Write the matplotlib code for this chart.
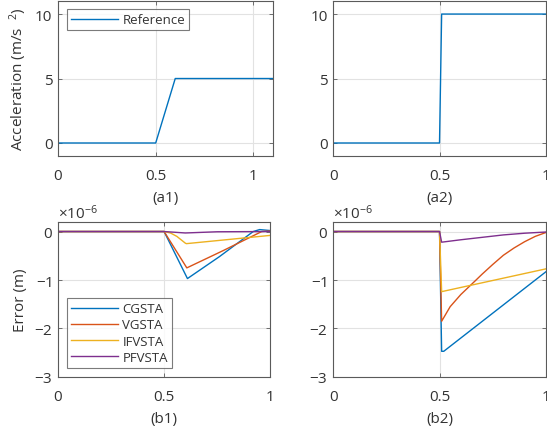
import matplotlib
matplotlib.use("Agg")
import matplotlib.pyplot as plt
import numpy as np
from matplotlib.ticker import ScalarFormatter

plt.rcParams['font.family'] = ['Open Sans', 'DejaVu Sans']
plt.rcParams['mathtext.fontset'] = 'custom'
plt.rcParams['mathtext.rm'] = 'Open Sans'
plt.rcParams['mathtext.it'] = 'Open Sans'
plt.rcParams['axes.unicode_minus'] = False
plt.rcParams['font.size'] = 10

# reference accelerations (m/s^2)
t_a1 = [0, 0.5, 0.6, 1.1]
acc_a1 = [0, 0, 5, 5]
t_a2 = [0, 0.5, 0.51, 1.0]
acc_a2 = [0, 0, 10, 10]

# tracking errors, in units of 1e-6 m
# (b1)
cg_t1 = [0, 0.5, 0.61, 0.76, 0.92, 0.95, 1.0]
cg_e1 = [0, 0, -0.97, -0.52, 0.0, 0.04, 0.02]
vg_t1 = [0, 0.5, 0.607, 0.78, 0.96, 1.0]
vg_e1 = [0, 0, -0.75, -0.39, 0.0, 0.01]
if_t1 = [0, 0.5, 0.53, 0.56, 0.58, 0.6, 0.605, 1.0]
if_e1 = [0, 0, -0.03, -0.10, -0.17, -0.24, -0.25, -0.08]
pf_t1 = [0, 0.5, 0.6, 0.75, 1.0]
pf_e1 = [0, 0, -0.03, -0.005, 0.0]
# (b2)
cg_t2 = [0, 0.5, 0.51, 0.52, 1.0]
cg_e2 = [0, 0, -2.47, -2.47, -0.83]
vg_t2 = [0, 0.5, 0.51, 0.55, 0.6, 0.667, 0.7, 0.75, 0.8, 0.85, 0.9, 0.95, 1.0]
vg_e2 = [0, 0, -1.85, -1.55, -1.3, -1.02, -0.88, -0.68, -0.49, -0.34, -0.21, -0.10, -0.02]
if_t2 = [0, 0.5, 0.51, 1.0]
if_e2 = [0, 0, -1.24, -0.77]
pf_t2 = [0, 0.5, 0.51, 0.6, 0.7, 0.8, 0.9, 1.0]
pf_e2 = [0, 0, -0.22, -0.17, -0.12, -0.07, -0.035, -0.01]

names = ['CGSTA', 'VGSTA', 'IFVSTA', 'PFVSTA']
colors = ['#0072BD', '#D95319', '#EDB120', '#7E2F8E']

edge = '#5a5a5a'
txt = '#333333'
fs = 11

fig = plt.figure(figsize=(5.47, 4.31), dpi=100)
ax1 = fig.add_axes([0.106, 0.636, 0.393, 0.359])
ax2 = fig.add_axes([0.609, 0.636, 0.389, 0.359])
ax3 = fig.add_axes([0.106, 0.123, 0.388, 0.360])
ax4 = fig.add_axes([0.609, 0.123, 0.389, 0.360])

def style(ax):
    for s in ax.spines.values():
        s.set_color(edge)
        s.set_linewidth(0.8)
    ax.tick_params(direction='in', top=True, right=True, colors=edge,
                   labelcolor=txt, length=3, width=0.6, labelsize=fs)
    ax.tick_params(axis='x', pad=9)
    ax.tick_params(axis='y', pad=4)
    ax.grid(True, color='#e2e2e2', linewidth=0.8)
    ax.set_axisbelow(True)

leg_kw = dict(borderaxespad=0, fancybox=False, edgecolor=edge, handlelength=3.6,
              handletextpad=0.3, borderpad=0.3, fontsize=9.5, labelcolor=txt)

ax1.plot(t_a1, acc_a1, color=colors[0], lw=1, label='Reference')
ax1.set_xlim(0, 1.1)
ax1.set_ylim(-1, 11)
ax1.set_yticks([0, 5, 10])
ax1.set_xticks([0, 0.5, 1])
ax1.set_xticklabels(['0', '0.5', '1'])
ax1.set_ylabel('Acceleration (m/s  $^{2}$)', color=txt, fontsize=fs, labelpad=4)
ax1.set_xlabel('(a1)', color=txt, fontsize=fs, labelpad=5)
leg = ax1.legend(loc='upper left', bbox_to_anchor=(0.042, 0.948), **leg_kw)
leg.get_frame().set_linewidth(0.8)
style(ax1)

ax2.plot(t_a2, acc_a2, color=colors[0], lw=1)
ax2.set_xlim(0, 1)
ax2.set_ylim(-1, 11)
ax2.set_yticks([0, 5, 10])
ax2.set_xticks([0, 0.5, 1])
ax2.set_xticklabels(['0', '0.5', '1'])
ax2.set_xlabel('(a2)', color=txt, fontsize=fs, labelpad=5)
style(ax2)

series1 = [(cg_t1, cg_e1), (vg_t1, vg_e1), (if_t1, if_e1), (pf_t1, pf_e1)]
series2 = [(cg_t2, cg_e2), (vg_t2, vg_e2), (if_t2, if_e2), (pf_t2, pf_e2)]

for ax, series, lab in [(ax3, series1, '(b1)'), (ax4, series2, '(b2)')]:
    for (t, e), c, n in zip(series, colors, names):
        ax.plot(t, np.array(e) * 1e-6, color=c, lw=1, label=n)
    ax.set_xlim(0, 1)
    ax.set_ylim(-3e-6, 0.2e-6)
    ax.set_yticks([-3e-6, -2e-6, -1e-6, 0])
    ax.set_xticks([0, 0.5, 1])
    ax.set_xticklabels(['0', '0.5', '1'])
    fmt = ScalarFormatter(useMathText=True)
    fmt.set_powerlimits((0, 0))
    ax.yaxis.set_major_formatter(fmt)
    ax.yaxis.get_offset_text().set_color(txt)
    ax.yaxis.get_offset_text().set_fontsize(fs)
    ax.set_xlabel(lab, color=txt, fontsize=fs, labelpad=5)
    style(ax)

ax3.set_ylabel('Error (m)', color=txt, fontsize=fs, labelpad=4)
leg = ax3.legend(loc='lower left', bbox_to_anchor=(0.042, 0.058),
                 labelspacing=0.25, **leg_kw)
leg.get_frame().set_linewidth(0.8)

fig.savefig('out.png', dpi=100)
